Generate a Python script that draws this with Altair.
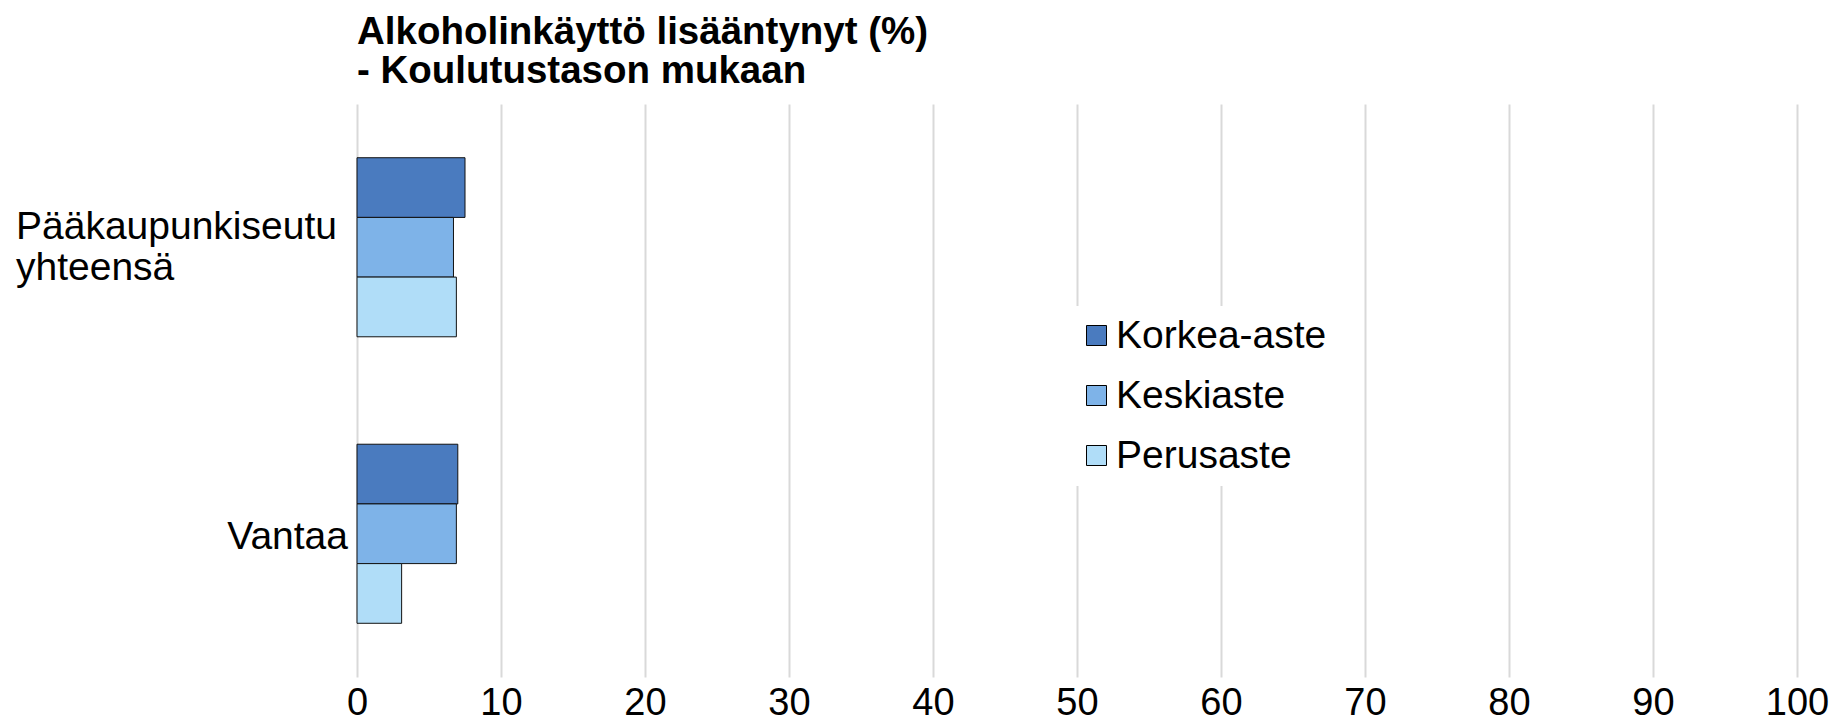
import altair as alt
import pandas as pd

categories = ["Pääkaupunkiseutu yhteensä", "Vantaa"]
category_labels = ["Pääkaupunkiseutu\nyhteensä", "Vantaa"]
series = ["Korkea-aste", "Keskiaste", "Perusaste"]
korkea = [7.5, 7.0]
keski = [6.7, 6.9]
perus = [6.9, 3.1]
colors = ["#4a7bbf", "#7eb3e8", "#b0ddf8"]
x_ticks = list(range(0, 101, 10))

rows = []
for i, c in enumerate(categories):
    for s, vals in zip(series, [korkea, keski, perus]):
        rows.append({"cat": c, "series": s, "value": vals[i]})
df = pd.DataFrame(rows)
lab = pd.DataFrame({"cat": categories, "label": category_labels})

FONT = "Liberation Sans"
FS = 39

yscale = alt.Scale(domain=categories, paddingInner=0.375, paddingOuter=0.1875)

bars = alt.Chart(df).mark_bar(stroke="#111111", strokeWidth=1).encode(
    x=alt.X("value:Q", scale=alt.Scale(domain=[0, 100], nice=False), title=None,
            axis=alt.Axis(values=x_ticks, grid=True, gridColor="#d9d9d9", gridWidth=2,
                          domain=False, ticks=False, labelFontSize=38, labelFont=FONT,
                          labelColor="black", labelPadding=7, labelFlush=False)),
    y=alt.Y("cat:N", scale=yscale, axis=None, sort=categories),
    yOffset=alt.YOffset("series:N", sort=series, scale=alt.Scale(paddingInner=0, paddingOuter=0)),
    color=alt.Color("series:N", sort=series, scale=alt.Scale(domain=series, range=colors),
                    legend=alt.Legend(title=None, orient="none", legendX=710, legendY=202,
                                      fillColor="white", padding=10, symbolType="square",
                                      symbolSize=400, symbolStrokeColor="black",
                                      symbolStrokeWidth=1, symbolOpacity=1,
                                      labelFontSize=FS, labelFont=FONT, labelColor="black",
                                      labelOffset=0, rowPadding=20, labelLimit=400)),
)

lab_left = alt.Chart(lab).transform_filter(alt.datum.cat != "Vantaa").mark_text(
    align="left", baseline="middle", lineBreak="\n", lineHeight=41, dy=-20,
    fontSize=FS, font=FONT, color="black"
).encode(
    x=alt.value(-341),
    y=alt.Y("cat:N", scale=yscale, axis=None, sort=categories),
    text="label:N",
)

lab_right = alt.Chart(lab).transform_filter(alt.datum.cat == "Vantaa").mark_text(
    align="right", baseline="middle", dy=3, fontSize=FS, font=FONT, color="black"
).encode(
    x=alt.value(-9),
    y=alt.Y("cat:N", scale=yscale, axis=None, sort=categories),
    text="label:N",
)

chart = alt.layer(bars, lab_left, lab_right).properties(
    width=1440,
    height=573,
    autosize=alt.AutoSizeParams(type="none"),
    padding={"left": 349, "top": 96, "right": 32, "bottom": 47},
    title=alt.TitleParams(
        text=["Alkoholinkäyttö lisääntynyt (%)", "- Koulutustason mukaan"],
        anchor="start", frame="group", fontSize=38.5, font=FONT, fontWeight="bold",
        color="black", lineHeight=39, offset=13,
    ),
).configure_view(stroke=None)

chart.save("out.html", embed_options={"renderer": "svg", "actions": False})
